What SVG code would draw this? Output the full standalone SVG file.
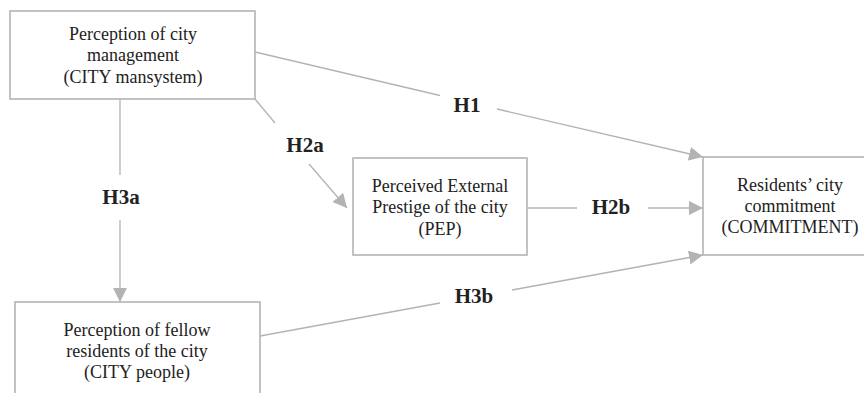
<svg xmlns="http://www.w3.org/2000/svg" width="864" height="393" viewBox="0 0 864 393">
<defs>
<style>
.box{fill:#fff;stroke:#b3b3b3;stroke-width:1.6}
.t{font-family:"Liberation Serif","Times New Roman",serif;font-size:18px;fill:#222;text-anchor:middle}
.h{font-family:"Liberation Serif","Times New Roman",serif;font-size:21px;font-weight:bold;fill:#222;text-anchor:middle}
.ln{stroke:#b3b3b3;stroke-width:1.3;fill:none}
</style>
<marker id="ah" viewBox="0 0 10 10" refX="10" refY="5" markerWidth="14" markerHeight="14" markerUnits="userSpaceOnUse" orient="auto">
<path d="M0,0 L10,5 L0,10 z" fill="#b3b3b3"/>
</marker>
</defs>
<rect width="864" height="393" fill="#fff"/>
<g id="connectors">
<path class="ln" d="M255,52 L440,95.5"/>
<path class="ln" d="M497,109 L703,157" marker-end="url(#ah)"/>
<text class="h" x="467" y="112">H1</text>
<path class="ln" d="M255,99 L275,123"/>
<path class="ln" d="M309,164 L347,208" marker-end="url(#ah)"/>
<text class="h" x="305" y="152">H2a</text>
<path class="ln" d="M527,208 L577,208"/>
<path class="ln" d="M648,208 L703,208" marker-end="url(#ah)"/>
<text class="h" x="611" y="214">H2b</text>
<path class="ln" d="M120,99 L120,175"/>
<path class="ln" d="M120,220 L120,302" marker-end="url(#ah)"/>
<text class="h" x="121" y="204">H3a</text>
<path class="ln" d="M260,336 L440,303"/>
<path class="ln" d="M512,290 L703,255" marker-end="url(#ah)"/>
<text class="h" x="474" y="303">H3b</text>
</g>
<g id="city">
<rect class="box" x="10" y="11" width="245" height="88"/>
<text class="t" x="133" y="40">Perception of city</text>
<text class="t" x="133" y="61">management</text>
<text class="t" x="133" y="83">(CITY mansystem)</text>
</g>
<g id="pep">
<rect class="box" x="353" y="158" width="174" height="97"/>
<text class="t" x="440" y="192">Perceived External</text>
<text class="t" x="440" y="213">Prestige of the city</text>
<text class="t" x="440" y="235">(PEP)</text>
</g>
<g id="commitment">
<rect class="box" x="703" y="157" width="174" height="98"/>
<text class="t" x="790" y="191">Residents’ city</text>
<text class="t" x="790" y="212">commitment</text>
<text class="t" x="790" y="233">(COMMITMENT)</text>
</g>
<g id="people">
<rect class="box" x="15" y="302" width="245" height="110"/>
<text class="t" x="137" y="336">Perception of fellow</text>
<text class="t" x="137" y="357">residents of the city</text>
<text class="t" x="137" y="378">(CITY people)</text>
</g>
</svg>
